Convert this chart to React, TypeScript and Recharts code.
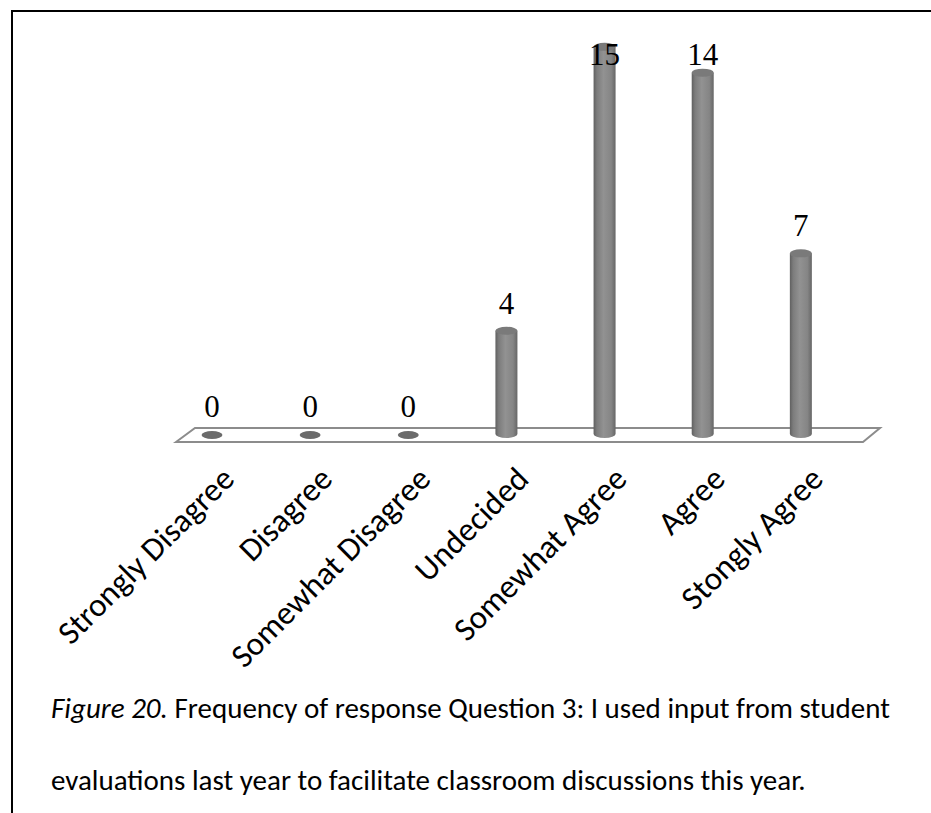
import React from 'react';
import { BarChart, Bar, XAxis, YAxis, LabelList, usePlotArea } from 'recharts';

// Responses to question 3
const categories = [
  'Strongly Disagree',
  'Disagree',
  'Somewhat Disagree',
  'Undecided',
  'Somewhat Agree',
  'Agree',
  'Stongly Agree',
];
const counts = [0, 0, 0, 4, 15, 14, 7];
const yTicks = [0, 16];

const data = categories.map((name, i) => ({ name, count: counts[i] }));

const SANS = 'Calibri, Carlito, Lato, sans-serif';
const SERIF = '"Times New Roman", "Liberation Serif", serif';

// flat 3d floor that the cylinders stand on
const Floor = () => {
  const area = usePlotArea ? usePlotArea() : null;
  if (!area) return null;
  const base = area.y + area.height;
  const l = area.x;
  const r = area.x + area.width;
  const pts = [
    [l + 13, base + 8],
    [l + 32, base - 6],
    [r + 30, base - 6],
    [r + 13, base + 8],
  ];
  return (
    <polygon
      points={pts.map((p) => p.join(',')).join(' ')}
      fill="#fff"
      stroke="#8c8c8c"
      strokeWidth={2}
    />
  );
};

const Cylinder = (props: any) => {
  const { x, y, width, height } = props;
  const cx = x + width / 2;
  const rx = width / 2;
  const ry = 4;
  const bottom = y + height;
  if (!height) {
    return <ellipse cx={cx} cy={bottom + 1} rx={rx * 0.95} ry={ry} fill="#6b6b6b" />;
  }
  return (
    <g>
      <path
        d={`M${x},${y} L${x},${bottom} A${rx},${ry} 0 0 0 ${x + width},${bottom} L${x + width},${y} Z`}
        fill="url(#cyl-body)"
      />
      <ellipse cx={cx} cy={y} rx={rx} ry={ry} fill="#7a7a7a" />
    </g>
  );
};

const ValueLabel = (props: any) => {
  const { x, y, width, value } = props;
  // tall columns push their label down into the bar, as the top is crowded
  const by = Math.max(y - 17, 65);
  return (
    <text
      x={x + width / 2}
      y={by}
      textAnchor="middle"
      fontFamily={SERIF}
      fontSize={31}
      fill="#000"
    >
      {value}
    </text>
  );
};

const CategoryTick = (props: any) => {
  const { x, y, payload } = props;
  return (
    <text
      transform={`translate(${x + 24},${y + 39}) rotate(-45)`}
      textAnchor="end"
      fontFamily={SANS}
      fontSize={33}
      fill="#000"
    >
      {payload.value}
    </text>
  );
};

export default function App() {
  return (
    <div style={{ position: 'absolute', left: 0, top: 0, width: 931, height: 813, background: '#fff' }}>
      <div
        style={{
          position: 'absolute',
          left: 11,
          top: 10,
          right: 0,
          bottom: 0,
          borderTop: '2px solid #000',
          borderLeft: '2px solid #000',
        }}
      />
      <div style={{ position: 'absolute', left: 0, top: 0 }}>
        <BarChart
          width={931}
          height={690}
          data={data}
          margin={{ top: 21, right: 81, left: 163, bottom: 0 }}
        >
          <defs>
            <linearGradient id="cyl-body" x1="0" y1="0" x2="1" y2="0">
              <stop offset="0%" stopColor="#606060" />
              <stop offset="15%" stopColor="#7c7c7c" />
              <stop offset="45%" stopColor="#929292" />
              <stop offset="80%" stopColor="#858585" />
              <stop offset="100%" stopColor="#666666" />
            </linearGradient>
          </defs>
          <Floor />
          <XAxis
            dataKey="name"
            axisLine={false}
            tickLine={false}
            interval={0}
            height={256}
            tick={<CategoryTick />}
          />
          <YAxis hide domain={[yTicks[0], yTicks[1]]} ticks={yTicks} />
          <Bar dataKey="count" barSize={22} shape={<Cylinder />} isAnimationActive={false}>
            <LabelList dataKey="count" content={<ValueLabel />} />
          </Bar>
        </BarChart>
      </div>
      <div
        style={{
          position: 'absolute',
          left: 51,
          top: 672,
          fontFamily: SANS,
          fontSize: 29,
          lineHeight: '72px',
          color: '#000',
          whiteSpace: 'nowrap',
        }}
      >
        <div>
          <i>Figure 20.</i> Frequency of response Question 3: I used input from student
        </div>
        <div>evaluations last year to facilitate classroom discussions this year.</div>
      </div>
    </div>
  );
}
